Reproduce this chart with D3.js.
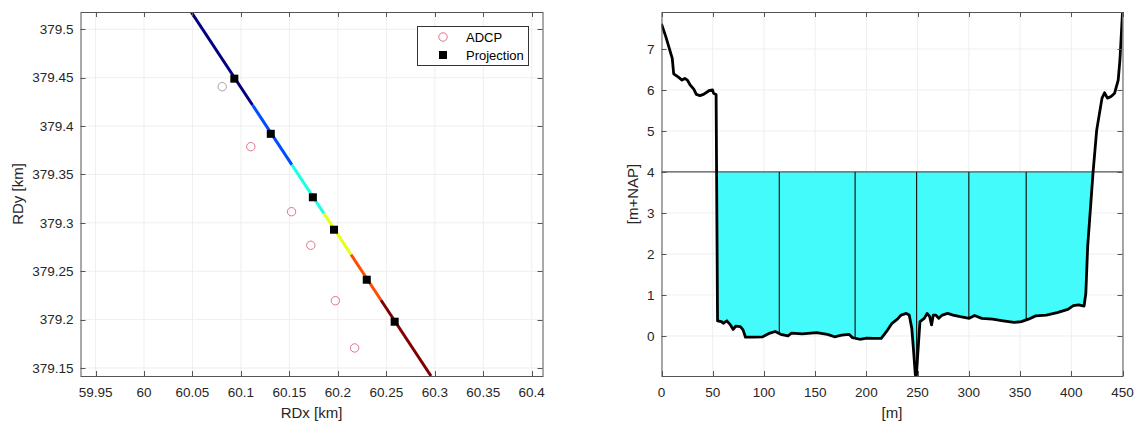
<!DOCTYPE html>
<html>
<head>
<meta charset="utf-8">
<script src="https://cdn.jsdelivr.net/npm/d3@7"></script>
<style>
  html, body { margin: 0; padding: 0; background: #fff; }
  svg { display: block; font-family: "Liberation Sans", Arial, Helvetica, sans-serif; }
</style>
</head>
<body>
<svg id="chart" width="1143" height="421"></svg>
<script>
// ---------------- DATA ----------------
// Left panel: plan view (RD coordinates, km)
const adcpX = [60.0807, 60.1102, 60.1522, 60.1721, 60.1974, 60.2173];
const adcpY = [379.4407, 379.3787, 379.3115, 379.2768, 379.2195, 379.1707];
const projX = [60.0932, 60.1308, 60.1742, 60.1960, 60.2298, 60.2586];
const projY = [379.449, 379.392, 379.3264, 379.2929, 379.2412, 379.1978];
const sectionStart = [60.0487, 379.5179];
const sectionEnd = [60.2961, 379.1417];
const sectionLength = 450; // m
const cellEdges = [0, 115, 189, 249, 300, 356, 450];
const cellColors = ["#000080", "#004dff", "#1affe6", "#e6ff1a", "#ff4d00", "#800000"];
const adcpColors = ["#8c8c8c", "#e0506e", "#e0506e", "#e0506e", "#e0506e", "#e0506e"];
const leftXTicks = [59.95, 60, 60.05, 60.1, 60.15, 60.2, 60.25, 60.3, 60.35, 60.4];
const leftYTicks = [379.15, 379.2, 379.25, 379.3, 379.35, 379.4, 379.45, 379.5];
const legendLabels = ["ADCP", "Projection"];

// Right panel: cross-section bed level
const bedDist = [0, 4.2, 10.5, 11.9, 16.5, 20, 22.8, 25.2, 28, 31.5, 34, 37.5, 41, 46.3, 49.8, 50.8, 53.3,
  54.7, 58.5, 60.3, 63.8, 67.3, 70, 72.5, 77, 79.6, 82, 88.3, 98.8, 105.8, 111, 116.4, 123.4, 126.9,
  137.4, 151.4, 161.9, 168.9, 175.9, 183, 186.4, 193.5, 200.5, 207.5, 214.5, 219.7, 225, 230.3, 233.8,
  239, 241.8, 244.3, 246, 247.8, 248.8, 250.2, 252.3, 256.5, 259.3, 261.8, 263.6, 265.3, 267.8, 270.6,
  274.1, 279.3, 284.6, 291.6, 300.4, 305.6, 312.6, 323.1, 333.6, 344.2, 351.2, 358.2, 365.2, 375.7,
  386.2, 396.7, 402, 407.2, 412.5, 414.2, 416, 421.3, 424.8, 430, 432.5, 435.3, 438.8, 442.3, 445.8,
  447.5, 450];
const bedLevel = [7.61, 7.30, 6.77, 6.39, 6.31, 6.24, 6.28, 6.24, 6.12, 6.02, 5.89, 5.86, 5.89, 5.98, 6.00, 5.92, 5.89,
  0.37, 0.35, 0.31, 0.37, 0.27, 0.16, 0.24, 0.23, 0.15, -0.03, -0.03, -0.02, 0.07, 0.11, 0.04, 0.00, 0.07,
  0.05, 0.08, 0.04, -0.02, 0.02, 0.04, -0.04, -0.08, -0.05, -0.06, -0.06, 0.11, 0.31, 0.41, 0.51,
  0.55, 0.51, 0.19, -0.34, -0.95, -0.976, -0.42, 0.35, 0.43, 0.55, 0.47, 0.27, 0.51, 0.51, 0.43,
  0.51, 0.55, 0.51, 0.47, 0.43, 0.50, 0.43, 0.41, 0.37, 0.33, 0.35, 0.41, 0.49, 0.51,
  0.57, 0.65, 0.74, 0.76, 0.73, 1.04, 2.18, 4.0, 5.02, 5.80, 5.93, 5.80, 5.84, 5.92, 6.24,
  6.73, 7.89];
const waterLevel = 4;
const cellBoundaries = [115, 189, 249, 300, 356];
const rightXTicks = [0, 50, 100, 150, 200, 250, 300, 350, 400, 450];
const rightYTicks = [0, 1, 2, 3, 4, 5, 6, 7];

// ---------------- DRAW ----------------
const svg = d3.select("#chart");
svg.append("rect").attr("width", 1143).attr("height", 421).attr("fill", "#fff");

const axisColor = "#555";
const gridColor = "#efefef";
const tickFont = 13.5;
const labelFont = 15;
const fmt = d => String(+d.toFixed(3));

function frame(g, x, y, xt, yt) {
  const [x0, x1] = x.range(), [y0, y1] = y.range();
  g.append("g").selectAll("line").data(xt).join("line")
    .attr("x1", d => x(d)).attr("x2", d => x(d)).attr("y1", y1).attr("y2", y0)
    .attr("stroke", gridColor).attr("stroke-width", 1);
  g.append("g").selectAll("line").data(yt).join("line")
    .attr("x1", x0).attr("x2", x1).attr("y1", d => y(d)).attr("y2", d => y(d))
    .attr("stroke", gridColor).attr("stroke-width", 1);
}

function axesOverlay(g, x, y, xt, yt) {
  const [x0, x1] = x.range(), [y0, y1] = y.range();
  const tl = 5;
  const ticks = g.append("g").attr("stroke", axisColor).attr("stroke-width", 1);
  xt.forEach(d => {
    const px = Math.round(x(d)) + 0.5;
    ticks.append("line").attr("x1", px).attr("x2", px).attr("y1", y0).attr("y2", y0 - tl);
    ticks.append("line").attr("x1", px).attr("x2", px).attr("y1", y1).attr("y2", y1 + tl);
  });
  yt.forEach(d => {
    const py = Math.round(y(d)) + 0.5;
    ticks.append("line").attr("x1", x0).attr("x2", x0 + tl).attr("y1", py).attr("y2", py);
    ticks.append("line").attr("x1", x1).attr("x2", x1 - tl).attr("y1", py).attr("y2", py);
  });
  g.append("rect").attr("x", x0 + 0.5).attr("y", y1 + 0.5)
    .attr("width", x1 - x0).attr("height", y0 - y1)
    .attr("fill", "none").attr("stroke", axisColor).attr("stroke-width", 1);
  g.append("g").selectAll("text").data(xt).join("text")
    .attr("x", d => x(d)).attr("y", y0 + 21)
    .attr("text-anchor", "middle").attr("font-size", tickFont).attr("fill", "#262626")
    .text(fmt);
  g.append("g").selectAll("text").data(yt).join("text")
    .attr("x", x0 - 7).attr("y", d => y(d)).attr("dy", "0.35em")
    .attr("text-anchor", "end").attr("font-size", tickFont).attr("fill", "#262626")
    .text(fmt);
}

// ---------- Left panel ----------
const xL = d3.scaleLinear().domain([59.9345, 60.4111]).range([80.5, 542.5]);
const yL = d3.scaleLinear().domain([379.1417, 379.5179]).range([376, 12]);
const gL = svg.append("g");
frame(gL, xL, yL, leftXTicks, leftYTicks);

const defs = svg.append("defs");
defs.append("clipPath").attr("id", "clipL").append("rect")
  .attr("x", 80.5).attr("y", 12).attr("width", 462).attr("height", 364);

const along = t => [
  sectionStart[0] + (sectionEnd[0] - sectionStart[0]) * t,
  sectionStart[1] + (sectionEnd[1] - sectionStart[1]) * t
];
const segs = d3.range(cellEdges.length - 1).map(i => ({
  a: along(cellEdges[i] / sectionLength),
  b: along(cellEdges[i + 1] / sectionLength),
  c: cellColors[i]
}));
gL.append("g").attr("clip-path", "url(#clipL)").selectAll("line").data(segs).join("line")
  .attr("x1", d => xL(d.a[0])).attr("y1", d => yL(d.a[1]))
  .attr("x2", d => xL(d.b[0])).attr("y2", d => yL(d.b[1]))
  .attr("stroke", d => d.c).attr("stroke-width", 3);

gL.append("g").selectAll("circle").data(adcpX.map((v, i) => [v, adcpY[i], adcpColors[i]])).join("circle")
  .attr("cx", d => xL(d[0])).attr("cy", d => yL(d[1])).attr("r", 4.2)
  .attr("fill", "none").attr("stroke", d => d[2]).attr("stroke-width", 0.8);

gL.append("g").selectAll("rect").data(projX.map((v, i) => [v, projY[i]])).join("rect")
  .attr("x", d => xL(d[0]) - 4).attr("y", d => yL(d[1]) - 4)
  .attr("width", 8).attr("height", 8).attr("fill", "#000");

axesOverlay(gL, xL, yL, leftXTicks, leftYTicks);

// legend
const lg = gL.append("g");
lg.append("rect").attr("x", 417.5).attr("y", 26.5).attr("width", 111).attr("height", 39)
  .attr("fill", "#fff").attr("stroke", "#333").attr("stroke-width", 1);
lg.append("circle").attr("cx", 443).attr("cy", 37).attr("r", 4.2)
  .attr("fill", "none").attr("stroke", "#e0506e").attr("stroke-width", 0.8);
lg.append("rect").attr("x", 439).attr("y", 51).attr("width", 8).attr("height", 8).attr("fill", "#000");
lg.selectAll("text").data(legendLabels).join("text")
  .attr("x", 466).attr("y", (d, i) => 37 + i * 18).attr("dy", "0.35em")
  .attr("font-size", 13).attr("fill", "#000").text(d => d);

gL.append("text").attr("x", 311.5).attr("y", 418).attr("text-anchor", "middle")
  .attr("font-size", labelFont).attr("fill", "#262626").text("RDx [km]");
gL.append("text").attr("transform", "translate(23,194) rotate(-90)").attr("text-anchor", "middle")
  .attr("font-size", labelFont).attr("fill", "#262626").text("RDy [km]");

// ---------- Right panel ----------
const xR = d3.scaleLinear().domain([0, 450]).range([661.5, 1122.5]);
const yR = d3.scaleLinear().domain([-0.976, 7.9]).range([376, 12]);
const gR = svg.append("g");
frame(gR, xR, yR, rightXTicks, rightYTicks);

defs.append("clipPath").attr("id", "clipR").append("rect")
  .attr("x", 661.5).attr("y", 12).attr("width", 461).attr("height", 364);

const bed = bedDist.map((d, i) => [d, bedLevel[i]]);
const bedAt = xv => {
  const i = d3.bisector(d => d[0]).right(bed, xv);
  const a = bed[i - 1], b = bed[i];
  return a[1] + (b[1] - a[1]) * (xv - a[0]) / (b[0] - a[0]);
};

gR.append("path").datum(bed)
  .attr("clip-path", "url(#clipR)")
  .attr("d", d3.area().x(d => xR(d[0])).y0(yR(waterLevel)).y1(d => yR(Math.min(d[1], waterLevel))))
  .attr("fill", "#44fbfb");

gR.append("line").attr("x1", 661.5).attr("x2", 1122.5)
  .attr("y1", yR(waterLevel)).attr("y2", yR(waterLevel))
  .attr("stroke", "#555").attr("stroke-width", 1.2);

gR.append("g").selectAll("line").data(cellBoundaries).join("line")
  .attr("x1", d => xR(d)).attr("x2", d => xR(d))
  .attr("y1", yR(waterLevel)).attr("y2", d => yR(bedAt(d)))
  .attr("stroke", "#1a1a1a").attr("stroke-width", 1.2);

gR.append("path").datum(bed)
  .attr("clip-path", "url(#clipR)")
  .attr("d", d3.line().x(d => xR(d[0])).y(d => yR(d[1])))
  .attr("fill", "none").attr("stroke", "#000").attr("stroke-width", 2.8)
  .attr("stroke-linejoin", "round");

axesOverlay(gR, xR, yR, rightXTicks, rightYTicks);

gR.append("text").attr("x", 892).attr("y", 418).attr("text-anchor", "middle")
  .attr("font-size", labelFont).attr("fill", "#262626").text("[m]");
gR.append("text").attr("transform", "translate(638,194) rotate(-90)").attr("text-anchor", "middle")
  .attr("font-size", labelFont).attr("fill", "#262626").text("[m+NAP]");
</script>
</body>
</html>
